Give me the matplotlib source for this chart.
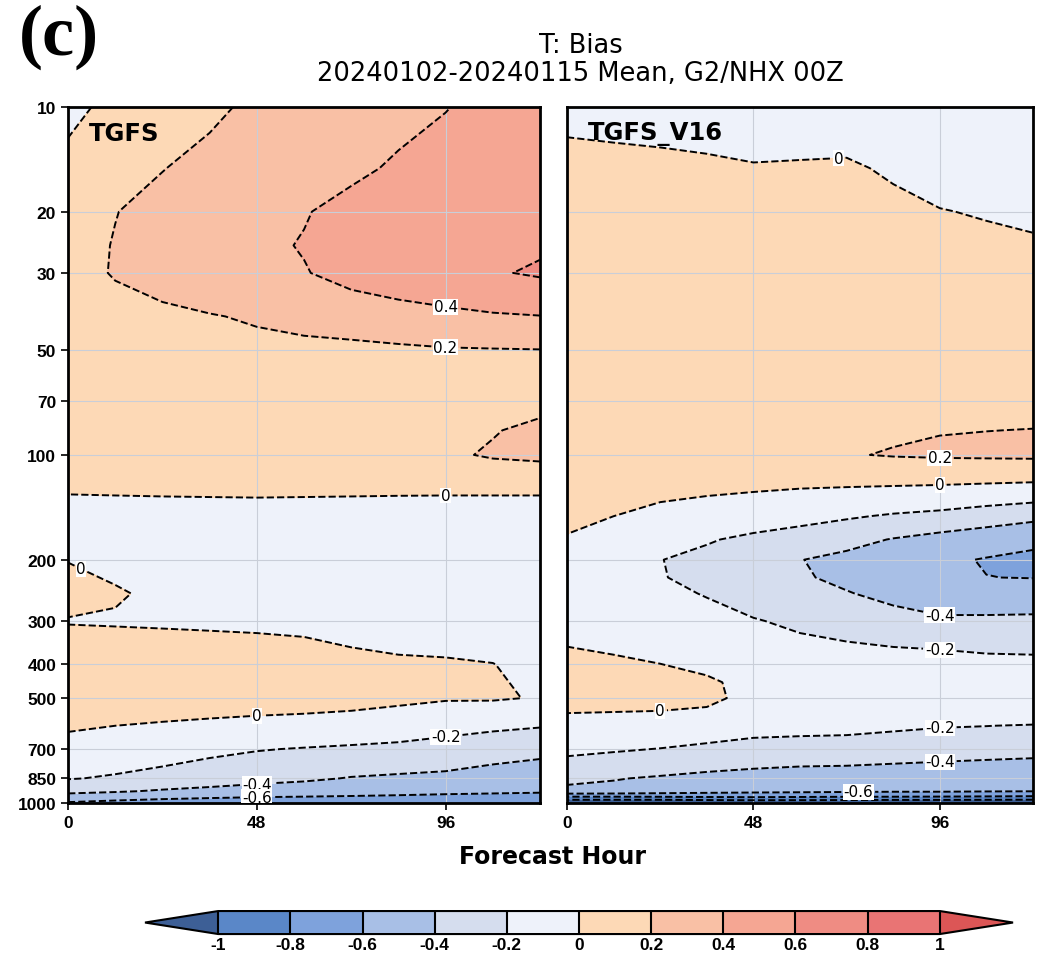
import numpy as np
import matplotlib.pyplot as plt
from matplotlib.colors import ListedColormap, BoundaryNorm
from matplotlib.ticker import NullLocator, FixedLocator, FixedFormatter

# Horas de pronóstico (eje x)
horas = [0, 12, 24, 36, 48, 60, 72, 84, 96, 108, 120]

# Niveles de presión (hPa) y sesgo de T para TGFS
presion_tgfs = [10, 15, 20, 25, 30, 40, 50, 70, 85, 100, 125, 150, 200, 250,
                300, 400, 500, 600, 700, 850, 925, 1000]
bias_tgfs = [
    [-0.05, 0.05, 0.12, 0.17, 0.23, 0.28, 0.32, 0.36, 0.395, 0.44, 0.48],
    [0.06, 0.14, 0.195, 0.25, 0.29, 0.33, 0.37, 0.42, 0.46, 0.50, 0.53],
    [0.10, 0.195, 0.26, 0.31, 0.35, 0.39, 0.45, 0.49, 0.52, 0.54, 0.55],
    [0.12, 0.21, 0.27, 0.32, 0.365, 0.41, 0.46, 0.50, 0.54, 0.57, 0.58],
    [0.12, 0.215, 0.27, 0.32, 0.36, 0.39, 0.46, 0.51, 0.55, 0.585, 0.62],
    [0.08, 0.12, 0.16, 0.19, 0.22, 0.26, 0.29, 0.32, 0.35, 0.38, 0.395],
    [0.06, 0.09, 0.11, 0.13, 0.15, 0.15, 0.155, 0.17, 0.185, 0.19, 0.195],
    [0.07, 0.08, 0.09, 0.10, 0.10, 0.11, 0.11, 0.12, 0.13, 0.14, 0.15],
    [0.06, 0.07, 0.08, 0.09, 0.10, 0.11, 0.12, 0.13, 0.15, 0.19, 0.24],
    [0.05, 0.06, 0.07, 0.08, 0.09, 0.10, 0.11, 0.13, 0.17, 0.22, 0.24],
    [0.012, 0.015, 0.018, 0.02, 0.022, 0.02, 0.018, 0.016, 0.015, 0.015, 0.015],
    [-0.05, -0.05, -0.05, -0.05, -0.05, -0.05, -0.05, -0.05, -0.05, -0.05, -0.05],
    [-0.005, -0.04, -0.05, -0.06, -0.06, -0.06, -0.06, -0.06, -0.06, -0.06, -0.06],
    [0.06, 0.015, -0.03, -0.05, -0.06, -0.06, -0.06, -0.06, -0.06, -0.06, -0.06],
    [-0.01, -0.015, -0.02, -0.025, -0.03, -0.035, -0.04, -0.045, -0.045, -0.05, -0.05],
    [0.13, 0.12, 0.11, 0.10, 0.09, 0.07, 0.03, 0.015, 0.01, 0.002, -0.03],
    [0.12, 0.115, 0.11, 0.09, 0.08, 0.065, 0.05, 0.035, 0.015, 0.015, -0.01],
    [0.02, 0.0, -0.02, -0.035, -0.05, -0.055, -0.065, -0.10, -0.15, -0.17, -0.19],
    [-0.06, -0.09, -0.12, -0.16, -0.19, -0.21, -0.23, -0.245, -0.26, -0.30, -0.33],
    [-0.19, -0.22, -0.26, -0.30, -0.34, -0.37, -0.41, -0.43, -0.45, -0.50, -0.55],
    [-0.35, -0.38, -0.42, -0.45, -0.48, -0.50, -0.52, -0.54, -0.56, -0.57, -0.58],
    [-0.62, -0.66, -0.69, -0.71, -0.72, -0.72, -0.72, -0.72, -0.72, -0.73, -0.74],
]

# Niveles de presión (hPa) y sesgo de T para TGFS_V16
presion_v16 = [10, 15, 20, 30, 50, 70, 85, 100, 125, 150, 175, 200, 225, 250,
               300, 350, 400, 450, 500, 550, 600, 700, 850, 925, 950, 975, 1000]
bias_v16 = [
    [-0.08, -0.08, -0.08, -0.08, -0.08, -0.08, -0.08, -0.09, -0.09, -0.10, -0.10],
    [0.10, 0.07, 0.05, 0.03, 0.01, 0.015, 0.02, -0.02, -0.05, -0.06, -0.07],
    [0.12, 0.11, 0.10, 0.09, 0.08, 0.08, 0.07, 0.04, 0.005, -0.01, -0.03],
    [0.13, 0.12, 0.12, 0.11, 0.11, 0.10, 0.10, 0.09, 0.08, 0.07, 0.07],
    [0.12, 0.12, 0.11, 0.11, 0.11, 0.12, 0.12, 0.12, 0.13, 0.13, 0.13],
    [0.10, 0.10, 0.11, 0.11, 0.12, 0.12, 0.13, 0.14, 0.15, 0.16, 0.17],
    [0.10, 0.10, 0.11, 0.12, 0.13, 0.14, 0.16, 0.18, 0.195, 0.199, 0.202],
    [0.08, 0.09, 0.10, 0.12, 0.14, 0.16, 0.19, 0.21, 0.22, 0.225, 0.23],
    [0.06, 0.05, 0.035, 0.02, 0.01, 0.0, -0.01, -0.02, -0.03, -0.045, -0.06],
    [0.03, 0.0, -0.04, -0.06, -0.08, -0.13, -0.18, -0.22, -0.25, -0.30, -0.35],
    [-0.01, -0.06, -0.12, -0.18, -0.25, -0.30, -0.34, -0.41, -0.47, -0.52, -0.57],
    [-0.10, -0.15, -0.195, -0.26, -0.32, -0.395, -0.45, -0.52, -0.57, -0.61, -0.63],
    [-0.12, -0.16, -0.19, -0.25, -0.31, -0.38, -0.44, -0.50, -0.56, -0.598, -0.605],
    [-0.10, -0.13, -0.16, -0.21, -0.27, -0.33, -0.39, -0.45, -0.50, -0.50, -0.50],
    [-0.06, -0.08, -0.10, -0.14, -0.19, -0.23, -0.27, -0.33, -0.37, -0.37, -0.365],
    [-0.005, -0.02, -0.05, -0.08, -0.13, -0.17, -0.19, -0.21, -0.22, -0.24, -0.25],
    [0.04, 0.02, 0.002, -0.03, -0.08, -0.10, -0.13, -0.13, -0.14, -0.15, -0.15],
    [0.06, 0.05, 0.04, 0.02, -0.04, -0.07, -0.09, -0.10, -0.10, -0.11, -0.12],
    [0.05, 0.045, 0.035, 0.015, -0.02, -0.05, -0.07, -0.08, -0.09, -0.095, -0.10],
    [0.002, -0.002, -0.005, -0.01, -0.03, -0.05, -0.08, -0.09, -0.10, -0.10, -0.10],
    [-0.05, -0.055, -0.06, -0.09, -0.13, -0.14, -0.15, -0.17, -0.19, -0.198, -0.21],
    [-0.15, -0.18, -0.205, -0.24, -0.27, -0.28, -0.28, -0.30, -0.31, -0.32, -0.33],
    [-0.37, -0.39, -0.42, -0.45, -0.47, -0.49, -0.50, -0.51, -0.53, -0.55, -0.57],
    [-0.43, -0.45, -0.50, -0.53, -0.55, -0.56, -0.57, -0.58, -0.58, -0.59, -0.595],
    [-0.71, -0.71, -0.70, -0.70, -0.70, -0.71, -0.72, -0.72, -0.73, -0.74, -0.75],
    [-0.95, -0.95, -0.95, -0.92, -0.90, -0.91, -0.92, -0.93, -0.93, -0.94, -0.95],
    [-1.25, -1.25, -1.25, -1.25, -1.25, -1.25, -1.25, -1.27, -1.28, -1.29, -1.30],
]

# Niveles de contorno y colores de la escala
niveles = [-1, -0.8, -0.6, -0.4, -0.2, 0, 0.2, 0.4, 0.6, 0.8, 1]
colores = ['#5a87c8', '#7ea2dc', '#a8bfe6', '#d5ddee', '#eef2fa',
           '#fdd9b6', '#f9c0a5', '#f5a693', '#ef8c83', '#e97474']
color_bajo = '#3d5f96'
color_alto = '#dc5656'

ticks_y = [10, 20, 30, 50, 70, 100, 200, 300, 400, 500, 700, 850, 1000]
ticks_x = [0, 48, 96]

# Donde van las etiquetas de los contornos (hora, hPa)
etiq_tgfs = [(96, 38), (96, 48), (96, 128), (4, 205), (48, 560),
             (96, 640), (48, 882), (48, 962)]
etiq_v16 = [(70, 14.3), (96, 101), (96, 121), (96, 287), (96, 364),
            (24, 545), (96, 609), (96, 755), (75, 931)]

fuente_ticks = ['Liberation Sans Narrow', 'Liberation Sans', 'DejaVu Sans']

cmap = ListedColormap(colores)
cmap.set_under(color_bajo)
cmap.set_over(color_alto)
norm = BoundaryNorm(niveles, cmap.N)


def formato(v):
    v = round(v, 1)
    if v == 0:
        return '0'
    return f'{v:g}'


def dibujar_panel(ax, presion, datos, nombre, etiq, con_etiquetas):
    H, P = np.meshgrid(horas, presion)
    Z = np.array(datos)
    cf = ax.contourf(H, P, Z, levels=niveles, cmap=cmap, norm=norm, extend='both')
    cs = ax.contour(H, P, Z, levels=niveles, colors='black',
                    linewidths=1.4, linestyles='--')

    ax.set_yscale('log')
    ax.set_ylim(1000, 10)
    ax.set_xlim(0, 120)

    etiquetas = ax.clabel(cs, fmt=formato, fontsize=11, inline=True,
                          inline_spacing=2, manual=etiq)
    for t in etiquetas:
        t.set_rotation(0)
        t.set_family('DejaVu Sans')
        t.set_bbox(dict(facecolor='white', edgecolor='none', pad=0.3))

    ax.yaxis.set_minor_locator(NullLocator())
    ax.yaxis.set_major_locator(FixedLocator(ticks_y))
    ax.xaxis.set_major_locator(FixedLocator(ticks_x))
    ax.xaxis.set_major_formatter(FixedFormatter([str(t) for t in ticks_x]))
    if con_etiquetas:
        ax.yaxis.set_major_formatter(FixedFormatter([str(t) for t in ticks_y]))
        ax.tick_params(axis='y', length=5, width=1.2)
    else:
        ax.tick_params(axis='y', length=0, labelleft=False)
    ax.tick_params(axis='x', length=5, width=1.2)
    for lab in ax.get_xticklabels() + ax.get_yticklabels():
        lab.set_family(fuente_ticks)
        lab.set_fontweight('bold')
        lab.set_fontsize(12.5)

    ax.grid(True, color='#c9ced8', linewidth=0.8)
    ax.set_axisbelow('line')
    for s in ax.spines.values():
        s.set_linewidth(2)

    ax.text(0.045, 0.962, nombre, transform=ax.transAxes, fontsize=17.5,
            fontweight='bold', family='DejaVu Sans', va='center', ha='left')
    return cf


fig = plt.figure(figsize=(10.5, 9.79), dpi=100)
ax1 = fig.add_axes([0.0648, 0.1788, 0.4495, 0.711])
ax2 = fig.add_axes([0.540, 0.1788, 0.4438, 0.711])

cf = dibujar_panel(ax1, presion_tgfs, bias_tgfs, 'TGFS', etiq_tgfs, True)
dibujar_panel(ax2, presion_v16, bias_v16, 'TGFS_V16', etiq_v16, False)

# Títulos y etiquetas
fig.text(0.018, 0.962, '(c)', fontsize=52, fontweight='bold',
         family='Liberation Serif', va='center', ha='left')
fig.text(0.553, 0.953, 'T: Bias', fontsize=18.5, family='DejaVu Sans',
         ha='center', va='center')
fig.text(0.553, 0.924, '20240102-20240115 Mean, G2/NHX 00Z', fontsize=18.5,
         family='DejaVu Sans', ha='center', va='center')
fig.text(0.526, 0.1246, 'Forecast Hour', fontsize=17, fontweight='bold',
         family='DejaVu Sans', ha='center', va='center')

# Barra de colores
cax = fig.add_axes([0.1381, 0.0449, 0.8267, 0.0235])
cb = fig.colorbar(cf, cax=cax, orientation='horizontal', extendfrac=0.1015,
                  ticks=niveles, drawedges=True)
cb.outline.set_linewidth(1.5)
cb.dividers.set_linewidth(1.5)
cb.ax.tick_params(length=0, pad=2)
cb.ax.set_xticklabels([formato(v) for v in niveles])
for lab in cb.ax.get_xticklabels():
    lab.set_family(fuente_ticks)
    lab.set_fontweight('bold')
    lab.set_fontsize(12.5)

plt.savefig('out.png', dpi=100)
